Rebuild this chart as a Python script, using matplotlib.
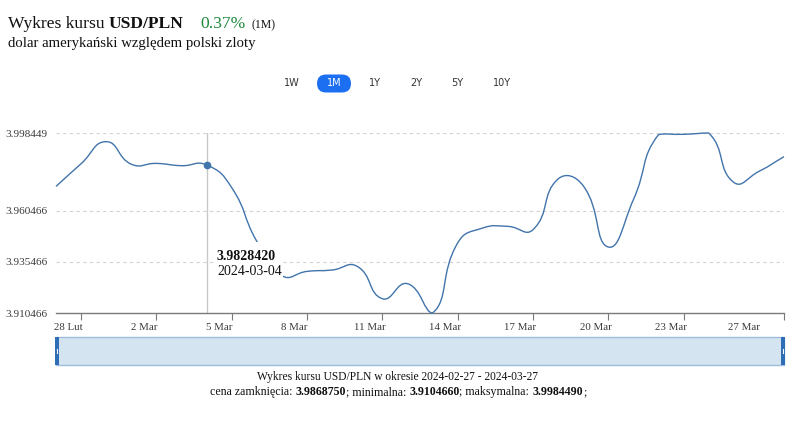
import numpy as np
import pandas as pd
import matplotlib
matplotlib.use('Agg')
import matplotlib.pyplot as plt
import matplotlib.dates as mdates
from matplotlib.path import Path
from matplotlib.patches import PathPatch, Rectangle, FancyBboxPatch

#T# data: daily USD/PLN closing rates, 2024-02-27 .. 2024-03-27
dates = pd.date_range('2024-02-27', '2024-03-27', freq='D')
rates = [3.97235, 3.98345, 3.99420, 3.98320, 3.98359, 3.98247, 3.982842,
         3.97172, 3.94546, 3.92870, 3.93080, 3.93148, 3.93325, 3.91746,
         3.92479, 3.910466, 3.94468, 3.95201, 3.95280, 3.95118, 3.97597,
         3.97269, 3.94273, 3.96585, 3.99762, 3.99780, 3.998449, 3.97431,
         3.97968, 3.986875]

ytick_values = [3.910466, 3.935466, 3.960466, 3.998449]
xtick_dates = ['2024-02-28', '2024-03-02', '2024-03-05', '2024-03-08', '2024-03-11',
               '2024-03-14', '2024-03-17', '2024-03-20', '2024-03-23']
xlabel_dates = xtick_dates + ['2024-03-27']
xlabel_texts = ['28 Lut', '2 Mar', '5 Mar', '8 Mar', '11 Mar', '14 Mar',
                '17 Mar', '20 Mar', '23 Mar', '27 Mar']
xlabel_shift = [-0.5] * 9 + [-1.6]   # days, labels sit left of the tick
hover_date = '2024-03-04'
ranges = ['1W', '1M', '1Y', '2Y', '5Y', '10Y']

W, H = 797, 436
serif = ['Liberation Serif', 'DejaVu Serif']
line_color = '#4174ab'
text_color = '#3a3a3a'

fig = plt.figure(figsize=(W / 100, H / 100), dpi=100)
fig.patch.set_facecolor('white')

#T# main chart axes, placed in pixels
ax = fig.add_axes([56 / W, (H - 313) / H, 728 / W, 180 / H])
x = mdates.date2num(dates.to_pydatetime())
ax.set_xlim(x[0], x[-1])
ax.set_ylim(ytick_values[0], ytick_values[-1])

for s in ['top', 'right', 'left']:
    ax.spines[s].set_visible(False)
ax.spines['bottom'].set_color('#7a7a7a')
ax.spines['bottom'].set_linewidth(1)

ax.set_yticks(ytick_values)
ax.set_yticklabels(['%.6f' % v for v in ytick_values])
ax.tick_params(axis='y', length=0, pad=6, labelsize=8.1, labelcolor=text_color)
for lab in ax.get_yticklabels():
    lab.set_family(serif)
for v in ytick_values[1:]:
    ax.axhline(v, color='#d2d2d2', lw=0.8, ls=(0, (3, 3)), zorder=0)

#T# tick marks every 3 days, labels placed a little to the left
ax.set_xticks(mdates.date2num(pd.to_datetime(xtick_dates).to_pydatetime()).tolist() + [x[-1]], minor=True)
ax.set_xticks(mdates.date2num(pd.to_datetime(xlabel_dates).to_pydatetime()) + np.array(xlabel_shift))
ax.set_xticklabels(xlabel_texts)
ax.tick_params(axis='x', which='major', length=0, pad=7, labelsize=7.8, labelcolor=text_color)
ax.tick_params(axis='x', which='minor', length=5, width=0.8, color='#7a7a7a')
for lab in ax.get_xticklabels():
    lab.set_family(serif)

#T# smooth line through the points (bezier with bbox constraint, like the web chart)
P = ax.transData.transform(np.column_stack([x, rates]))
lo, hi = P.min(axis=0), P.max(axis=0)
smooth = 0.5
cps = []
for i in range(len(P)):
    prev = P[i - 1] if i > 0 else P[i]
    nxt = P[i + 1] if i < len(P) - 1 else P[i]
    v = nxt - prev
    l0 = np.hypot(*(P[i] - prev))
    l1 = np.hypot(*(nxt - P[i]))
    r = l1 / (l0 + l1) if (l0 + l1) > 0 else 0.5
    c0 = np.clip(P[i] - v * smooth * (1 - r), lo, hi)
    c1 = np.clip(P[i] + v * smooth * r, lo, hi)
    cps.append((c0, c1))
verts = [P[0]]
codes = [Path.MOVETO]
for i in range(1, len(P)):
    verts += [cps[i - 1][1], cps[i][0], P[i]]
    codes += [Path.CURVE4] * 3
verts = ax.transData.inverted().transform(np.array(verts))
ax.add_patch(PathPatch(Path(verts, codes), fill=False, edgecolor=line_color, lw=1.0, zorder=3, clip_on=False))

#T# hovered point
hx = mdates.date2num(pd.Timestamp(hover_date).to_pydatetime())
hy = rates[list(dates.strftime('%Y-%m-%d')).index(hover_date)]
ax.axvline(hx, color='#c8c8c8', lw=1, zorder=2)
ax.plot([hx], [hy], 'o', color=line_color, ms=4.5, zorder=4)

#T# overlay axes in pixel coordinates for the page texts
ov = fig.add_axes([0, 0, 1, 1], zorder=5)
ov.set_xlim(0, W)
ov.set_ylim(H, 0)
ov.axis('off')
renderer = fig.canvas.get_renderer()

ov.add_patch(Rectangle((214, 242), 69, 40, facecolor='white', edgecolor='none'))
ov.text(217, 256, '%.7f' % hy, family=serif, weight='bold', fontsize=10, va='center', ha='left', color='#111111')
ov.text(217, 271, hover_date, family=serif, fontsize=10, va='center', ha='left', color='#111111')

#T# header
t1 = ov.text(8, 28, 'Wykres kursu ', family=serif, fontsize=12.6, va='baseline', color='#111111')
t2 = ov.text(8 + t1.get_window_extent(renderer).width, 28, 'USD/PLN', family=serif, fontsize=12.6,
             weight='bold', va='baseline', color='#111111')
ov.text(200, 28, '0.37%', family=serif, fontsize=12.6, va='baseline', color='#1f8a3b')
ov.text(252, 28, '(1M)', family=serif, fontsize=8.5, va='baseline', color='#111111')
ov.text(8, 47, 'dolar amerykański względem polski zloty', family=serif, fontsize=10.6, va='baseline', color='#111111')

#T# range buttons
btn_x = [292, 334, 375, 416, 457, 502]
for lbl, bx in zip(ranges, btn_x):
    if lbl == '1M':
        ov.add_patch(FancyBboxPatch((bx - 17, 74.5), 34, 18, boxstyle='round,pad=0,rounding_size=9',
                                    facecolor='#1d6ff2', edgecolor='none'))
        ov.text(bx, 83.5, lbl, family='DejaVu Sans', fontsize=7, ha='center', va='center', color='white')
    else:
        ov.text(bx, 83.5, lbl, family='DejaVu Sans', fontsize=7, ha='center', va='center', color='#333333')

#T# data zoom slider
ov.add_patch(Rectangle((56, 337), 728, 28, facecolor='#d5e4f1', edgecolor='#9dbddc', lw=1))
for hx0 in [55, 781]:
    ov.add_patch(Rectangle((hx0, 337), 4, 28, facecolor='#2f6db5', edgecolor='none'))
    ov.plot([hx0 + 2, hx0 + 2], [349, 353], color='white', lw=0.8)

#T# caption below
ov.text(398, 377, 'Wykres kursu USD/PLN w okresie 2024-02-27 - 2024-03-27', family=serif,
        fontsize=8.3, ha='center', va='center', color='#111111')

pieces = [('cena zamknięcia: ', 'normal'), ('3.9868750', 'bold'), ('; minimalna: ', 'normal'),
          ('3.9104660', 'bold'), ('; maksymalna: ', 'normal'), ('3.9984490', 'bold'), (';', 'normal')]
objs = []
for txt, wt in pieces:
    objs.append(ov.text(0, 392, txt, family=serif, fontsize=8.6, weight=wt, ha='left', va='center', color='#111111'))
widths = [t.get_window_extent(renderer).width for t in objs]
cur = 398 - sum(widths) / 2
for t, w in zip(objs, widths):
    t.set_x(cur)
    cur += w

fig.savefig('out.png', dpi=100, facecolor='white')
